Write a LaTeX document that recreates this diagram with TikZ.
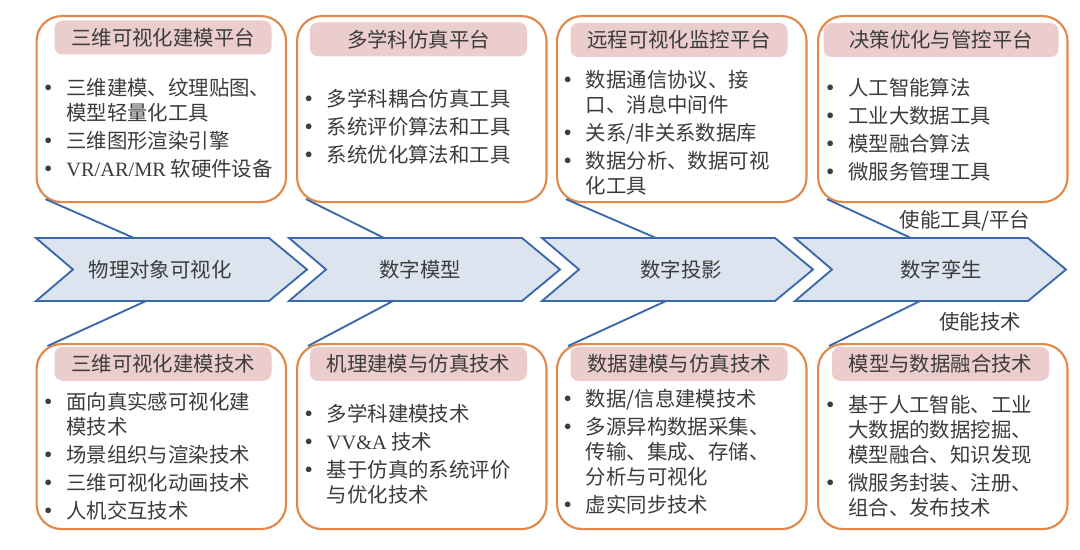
\documentclass[tikz,border=0pt]{standalone}
\usepackage{fontspec}
\setmainfont{Noto Sans CJK SC}
\newfontfamily\latin{Liberation Serif}
\usetikzlibrary{calc}
\definecolor{orng}{HTML}{E0894A}
\definecolor{pinkh}{HTML}{EBCDCD}
\definecolor{chfill}{HTML}{DCE4F0}
\definecolor{chline}{HTML}{3B68AA}
\definecolor{txt}{HTML}{3C3C3C}
\newcommand\bul{\makebox[16.3pt][l]{\raisebox{3.2pt}{\fontsize{11}{11}\selectfont$\bullet$}}}
\newcommand\ind{\hspace*{16.3pt}}
\begin{document}
\begin{tikzpicture}[x=0.75pt,y=-0.75pt,
  font=\fontsize{15.3}{18.75}\selectfont, text=txt,
  box/.style={draw=orng, line width=1.6pt, rounded corners=18.75pt, minimum width=187.1pt, inner sep=0pt, anchor=north west},
  topbox/.style={box, minimum height=139.5pt},
  botbox/.style={box, minimum height=138.75pt},
  hdr/.style={fill=pinkh, rounded corners=6pt, minimum height=25.5pt, minimum width=162.75pt, inner sep=0pt},
  body/.style={anchor=base west, inner sep=0pt},
  chev/.style={fill=chfill, draw=chline, line width=1.4pt, line join=miter},
  link/.style={draw=chline, line width=1.4pt},
  lbl/.style={inner sep=0pt}]
\useasboundingbox (0,0) rectangle (1080,549);
\fill[white] (0,0) rectangle (1080,549);

% chevrons
\foreach \L in {36,289,542,795}{
  \draw[chev] (\L,238) -- (\L+233,238) -- (\L+271,269.5) -- (\L+233,301) -- (\L,301) -- (\L+37,269.5) -- cycle;
}
\node[lbl] (k1) at (160,270) {物理对象可视化};
\node[lbl] (k2) at (420,270) {数字模型};
\node[lbl] (k3) at (681,270) {数字投影};
\node[lbl] (k4) at (941,270) {数字孪生};

\coordinate (t1) at (134,238);
\coordinate (t2) at (384,238);
\coordinate (t3) at (656,238);
\coordinate (t4) at (911,238);
\coordinate (b1) at (146,301);
\coordinate (b2) at (393,301);
\coordinate (b3) at (666,301);
\coordinate (b4) at (920,301);

% top boxes
\node[topbox] (tA) at (35.5,15) {};
\node[topbox] (tB) at (296,15) {};
\node[topbox] (tC) at (556,15) {};
\node[topbox] (tD) at (817,15) {};
% bottom boxes
\node[botbox] (uA) at (35.5,343) {};
\node[botbox] (uB) at (296,343) {};
\node[botbox] (uC) at (556,343) {};
\node[botbox] (uD) at (817,343) {};

% connectors
\draw[link] ($(tA.south west)+(10,-4)$) -- (t1);
\draw[link] ($(tB.south west)+(10,-4)$) -- (t2);
\draw[link] ($(tC.south west)+(10,-4)$) -- (t3);
\draw[link] ($(tD.south west)+(10,-4)$) -- (t4);
\draw[link] (b1) -- ($(uA.north west)+(12,3)$);
\draw[link] (b2) -- ($(uB.north west)+(12,3)$);
\draw[link] (b3) -- ($(uC.north west)+(12,3)$);
\draw[link] (b4) -- ($(uD.north west)+(12,3)$);

% headers
\node[hdr] (hA) at (163,37.5) {三维可视化建模平台};
\node[hdr] (hB) at (418.5,39.3) {多学科仿真平台};
\node[hdr] (hC) at (679,40) {远程可视化监控平台};
\node[hdr, minimum width=176.25pt] (hD) at (941,40) {决策优化与管控平台};
\node[hdr] (gA) at (163,363.8) {三维可视化建模技术};
\node[hdr] (gB) at (418.5,363.8) {机理建模与仿真技术};
\node[hdr] (gC) at (679,363.8) {数据建模与仿真技术};
\node[hdr] (gD) at (940.5,363.8) {模型与数据融合技术};

% bodies top
\node[body] (xA) at (44.3,95.8) {\begin{tabular}[t]{@{}l@{}}\bul 三维建模、纹理贴图、\\\ind 模型轻量化工具\\[2.25pt]\bul 三维图形渲染引擎\\[2.25pt]\bul {\latin VR/AR/MR} 软硬件设备\end{tabular}};
\node[body] (xB) at (304.9,106.8) {\begin{tabular}[t]{@{}l@{}}\bul 多学科耦合仿真工具\\[2.25pt]\bul 系统评价算法和工具\\[2.25pt]\bul 系统优化算法和工具\end{tabular}};
\node[body] (xC) at (563.9,87.8) {\begin{tabular}[t]{@{}l@{}}\bul 数据通信协议、接\\\ind 口、消息中间件\\[2.25pt]\bul 关系/非关系数据库\\[2.25pt]\bul 数据分析、数据可视\\\ind 化工具\end{tabular}};
\node[body] (xD) at (826.3,95.8) {\begin{tabular}[t]{@{}l@{}}\bul 人工智能算法\\[2.25pt]\bul 工业大数据工具\\[2.25pt]\bul 模型融合算法\\[2.25pt]\bul 微服务管理工具\end{tabular}};

% bodies bottom
\node[body] (yA) at (44.3,409.5) {\begin{tabular}[t]{@{}l@{}}\bul 面向真实感可视化建\\\ind 模技术\\[2.25pt]\bul 场景组织与渲染技术\\[2.25pt]\bul 三维可视化动画技术\\[2.25pt]\bul 人机交互技术\end{tabular}};
\node[body] (yB) at (304.9,421.8) {\begin{tabular}[t]{@{}l@{}}\bul 多学科建模技术\\[2.25pt]\bul {\latin VV\&A} 技术\\[2.25pt]\bul 基于仿真的系统评价\\\ind 与优化技术\end{tabular}};
\node[body] (yC) at (563.9,406.8) {\begin{tabular}[t]{@{}l@{}}\bul 数据/信息建模技术\\[2.25pt]\bul 多源异构数据采集、\\\ind 传输、集成、存储、\\\ind 分析与可视化\\[2.25pt]\bul 虚实同步技术\end{tabular}};
\node[body] (yD) at (826.3,412.8) {\begin{tabular}[t]{@{}l@{}}\bul 基于人工智能、工业\\\ind 大数据的数据挖掘、\\\ind 模型融合、知识发现\\[2.25pt]\bul 微服务封装、注册、\\\ind 组合、发布技术\end{tabular}};

% side labels
\node[lbl] (lt) at (965,221) {使能工具/平台};
\node[lbl] (lb) at (980,322) {使能技术};
\end{tikzpicture}
\end{document}
